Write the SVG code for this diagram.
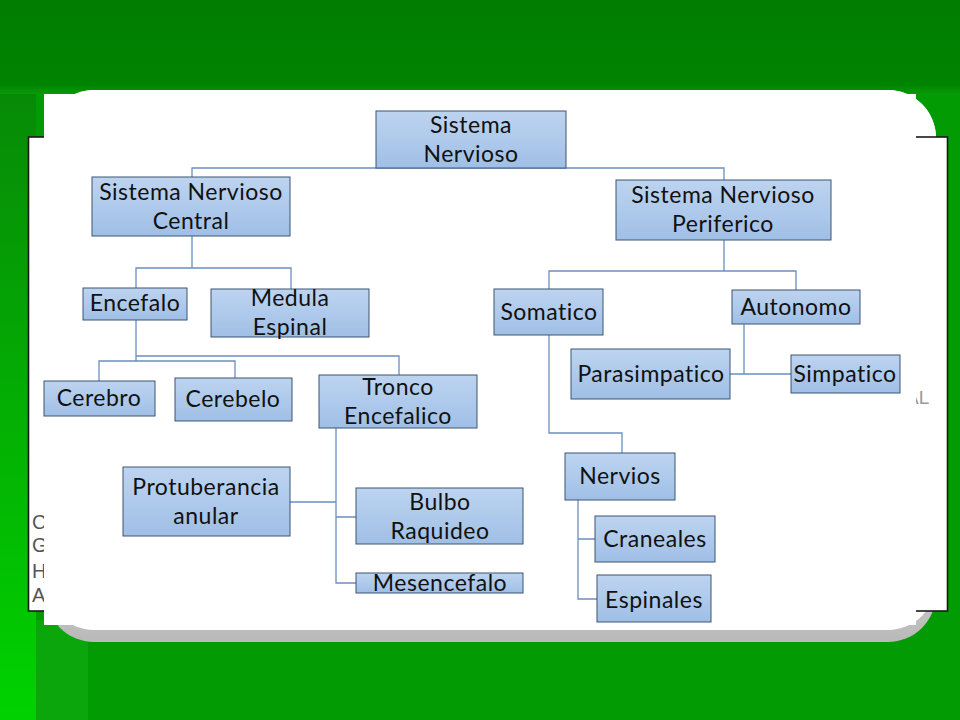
<svg xmlns="http://www.w3.org/2000/svg" width="960" height="720" viewBox="0 0 960 720">
<defs>
<linearGradient id="box" x1="0" y1="0" x2="0" y2="1">
<stop offset="0" stop-color="#bdd4f0"/>
<stop offset="1" stop-color="#a0bfe6"/>
</linearGradient>
<linearGradient id="leftstrip" x1="0" y1="0" x2="0" y2="1">
<stop offset="0" stop-color="#078a07"/>
<stop offset="1" stop-color="#00d200"/>
</linearGradient>
<linearGradient id="topband" x1="0" y1="0" x2="0" y2="1">
<stop offset="0" stop-color="#007d00"/>
<stop offset="0.9" stop-color="#008400"/>
<stop offset="1" stop-color="#0a9a0a"/>
</linearGradient>
<linearGradient id="shadow" x1="0" y1="0" x2="0" y2="1">
<stop offset="0" stop-color="#ffffff"/>
<stop offset="0.7" stop-color="#e6e6e6"/>
<stop offset="1" stop-color="#b9b9b9"/>
</linearGradient>
<style>
.node rect{fill:url(#box);stroke:#3f5473;stroke-width:1}
.node text{font-family:Lato,"Liberation Sans",sans-serif;font-size:23px;letter-spacing:0.5px;fill:#111;text-anchor:middle}
#connectors path{fill:none;stroke:#6b8fbf;stroke-width:1.3}
.ghost{font-family:"Liberation Sans",Arial,sans-serif;font-size:20px;fill:#555}
</style>
</defs>
<!-- background -->
<rect x="0" y="0" width="960" height="720" fill="#039b03"/>
<rect x="0" y="0" width="960" height="94" fill="url(#topband)"/>
<rect x="0" y="94" width="36" height="626" fill="url(#leftstrip)"/>
<rect x="36" y="620" width="52" height="100" fill="#0ba60b"/>
<!-- rounded panel -->
<rect x="46" y="90" width="890" height="552" rx="48" fill="url(#shadow)"/>
<rect x="46" y="90" width="890" height="540" rx="48" fill="#ffffff"/>
<!-- black bordered slide -->
<rect x="28.5" y="137" width="919" height="474" fill="#ffffff" stroke="#1a1a1a" stroke-width="1.6"/>
<text class="ghost" x="32" y="529">C</text>
<text class="ghost" x="32" y="552">G</text>
<text class="ghost" x="32" y="578">H</text>
<text class="ghost" x="32" y="602">A</text>
<text x="906" y="404" font-family="Liberation Sans,Arial,sans-serif" font-size="19" fill="#9a9a9a">AL</text>
<!-- white image area -->
<rect x="44" y="94" width="872" height="531" fill="#ffffff"/>
<g id="connectors">
<path d="M192,177 V168 H724 V180"/>
<path d="M192,236 V268 M136,288 V268 H291 V289"/>
<path d="M136,320 V361 M136,356 H399 V375 M99,381 V361 H235 V378"/>
<path d="M336,428 V583 H356 M290,502 H336 M336,517 H356"/>
<path d="M724,240 V271 M549,289 V271 H796 V290"/>
<path d="M744,324 V374 M730,374 H791"/>
<path d="M549,335 V433 H622 V453"/>
<path d="M578,500 V599 H597 M578,539 H595"/>
</g>
<g id="n-sistema-nervioso" class="node"><rect x="376" y="111" width="190" height="57"/><text x="471" y="133">Sistema</text><text x="471" y="162">Nervioso</text></g>
<g id="n-snc" class="node"><rect x="92" y="177" width="198" height="59"/><text x="191" y="200">Sistema Nervioso</text><text x="191" y="229">Central</text></g>
<g id="n-snp" class="node"><rect x="616" y="180" width="215" height="60"/><text x="723" y="203">Sistema Nervioso</text><text x="723" y="232">Periferico</text></g>
<g id="n-encefalo" class="node"><rect x="83" y="288" width="104" height="32"/><text x="135" y="311">Encefalo</text></g>
<g id="n-medula" class="node"><rect x="211" y="289" width="158" height="48"/><text x="290" y="306">Medula</text><text x="290" y="335">Espinal</text></g>
<g id="n-cerebro" class="node"><rect x="44" y="381" width="111" height="35"/><text x="99" y="406">Cerebro</text></g>
<g id="n-cerebelo" class="node"><rect x="175" y="378" width="117" height="43"/><text x="233" y="407">Cerebelo</text></g>
<g id="n-tronco" class="node"><rect x="319" y="375" width="158" height="53"/><text x="398" y="395">Tronco</text><text x="398" y="424">Encefalico</text></g>
<g id="n-protuberancia" class="node"><rect x="123" y="467" width="167" height="69"/><text x="206" y="495">Protuberancia</text><text x="206" y="524">anular</text></g>
<g id="n-bulbo" class="node"><rect x="356" y="488" width="167" height="56"/><text x="440" y="510">Bulbo</text><text x="440" y="539">Raquideo</text></g>
<g id="n-mesencefalo" class="node"><rect x="356" y="573" width="167" height="20"/><text x="440" y="591">Mesencefalo</text></g>
<g id="n-somatico" class="node"><rect x="494" y="289" width="109" height="46"/><text x="549" y="320">Somatico</text></g>
<g id="n-autonomo" class="node"><rect x="732" y="290" width="128" height="34"/><text x="796" y="315">Autonomo</text></g>
<g id="n-parasimpatico" class="node"><rect x="571" y="349" width="159" height="50"/><text x="651" y="382">Parasimpatico</text></g>
<g id="n-simpatico" class="node"><rect x="791" y="355" width="109" height="38"/><text x="845" y="382">Simpatico</text></g>
<g id="n-nervios" class="node"><rect x="565" y="453" width="110" height="47"/><text x="620" y="484">Nervios</text></g>
<g id="n-craneales" class="node"><rect x="595" y="516" width="120" height="46"/><text x="655" y="547">Craneales</text></g>
<g id="n-espinales" class="node"><rect x="597" y="575" width="114" height="47"/><text x="654" y="608">Espinales</text></g>
</svg>
